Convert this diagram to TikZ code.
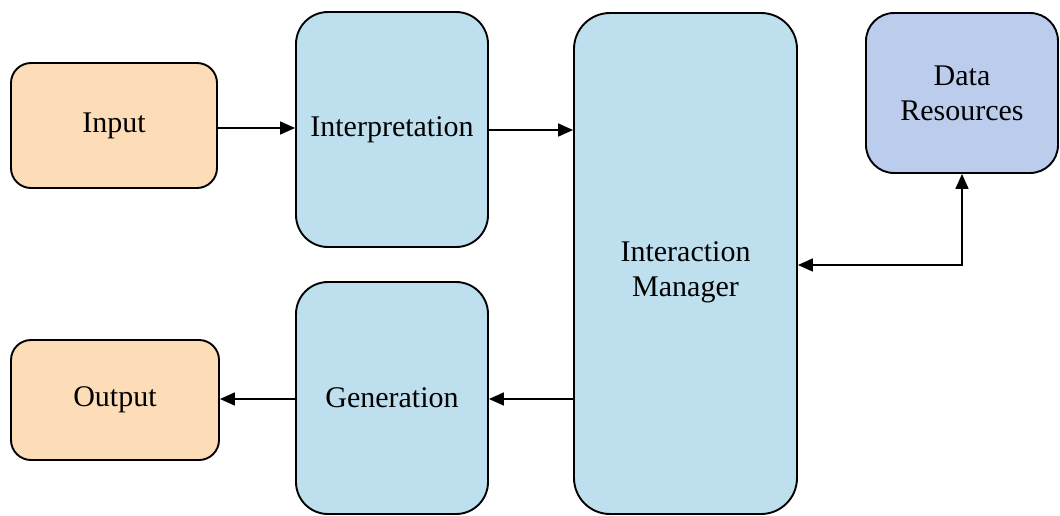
\documentclass[tikz,border=0pt]{standalone}
\usepackage{fontspec}
\setmainfont{Liberation Serif}
\usetikzlibrary{arrows.meta}
\definecolor{peach}{HTML}{FDDCB8}
\definecolor{lblue}{HTML}{BEE0EE}
\definecolor{dblue}{HTML}{BCCCEC}
\begin{document}
\begin{tikzpicture}[x=1pt,y=-1pt,
  box/.style={draw=black,line width=1.9pt,inner sep=0pt,align=center,
    font=\fontsize{30}{35}\selectfont},
  arr/.style={line width=1.7pt,-{Triangle[length=15pt,width=13pt]}}]
\useasboundingbox (0,0) rectangle (1060,515);
\node[box,fill=peach,rounded corners=20pt,minimum width=206pt,minimum height=125pt] (input) at (114,125.5) {Input};
\node[box,fill=lblue,rounded corners=32pt,minimum width=192pt,minimum height=235pt] (interp) at (392,129.5) {Interpretation};
\node[box,fill=lblue,rounded corners=36pt,minimum width=223pt,minimum height=501pt] (im) at (685.5,263.5) {};
\node[font=\fontsize{30}{35}\selectfont,align=center] (imt) at (685.5,272) {Interaction\\Manager};
\node[box,fill=dblue,rounded corners=28pt,minimum width=192pt,minimum height=160pt] (dr) at (962,93) {Data\\Resources};
\node[box,fill=lblue,rounded corners=32pt,minimum width=192pt,minimum height=232pt] (gen) at (392,398) {Generation};
\node[box,fill=peach,rounded corners=20pt,minimum width=208pt,minimum height=120pt] (output) at (115,400) {Output};
\coordinate (a1) at (0,128);
\coordinate (a2) at (0,130);
\coordinate (a3) at (0,265);
\coordinate (a4) at (0,399);
\draw[arr] (input.east |- a1) -- (interp.west |- a1);
\draw[arr] (interp.east |- a2) -- (im.west |- a2);
\draw[line width=1.7pt,{Triangle[length=15pt,width=13pt]}-{Triangle[length=15pt,width=13pt]}] (dr.south) |- (im.east |- a3);
\draw[arr] (im.west |- a4) -- (gen.east |- a4);
\draw[arr] (gen.west |- a4) -- (output.east |- a4);
\end{tikzpicture}
\end{document}
